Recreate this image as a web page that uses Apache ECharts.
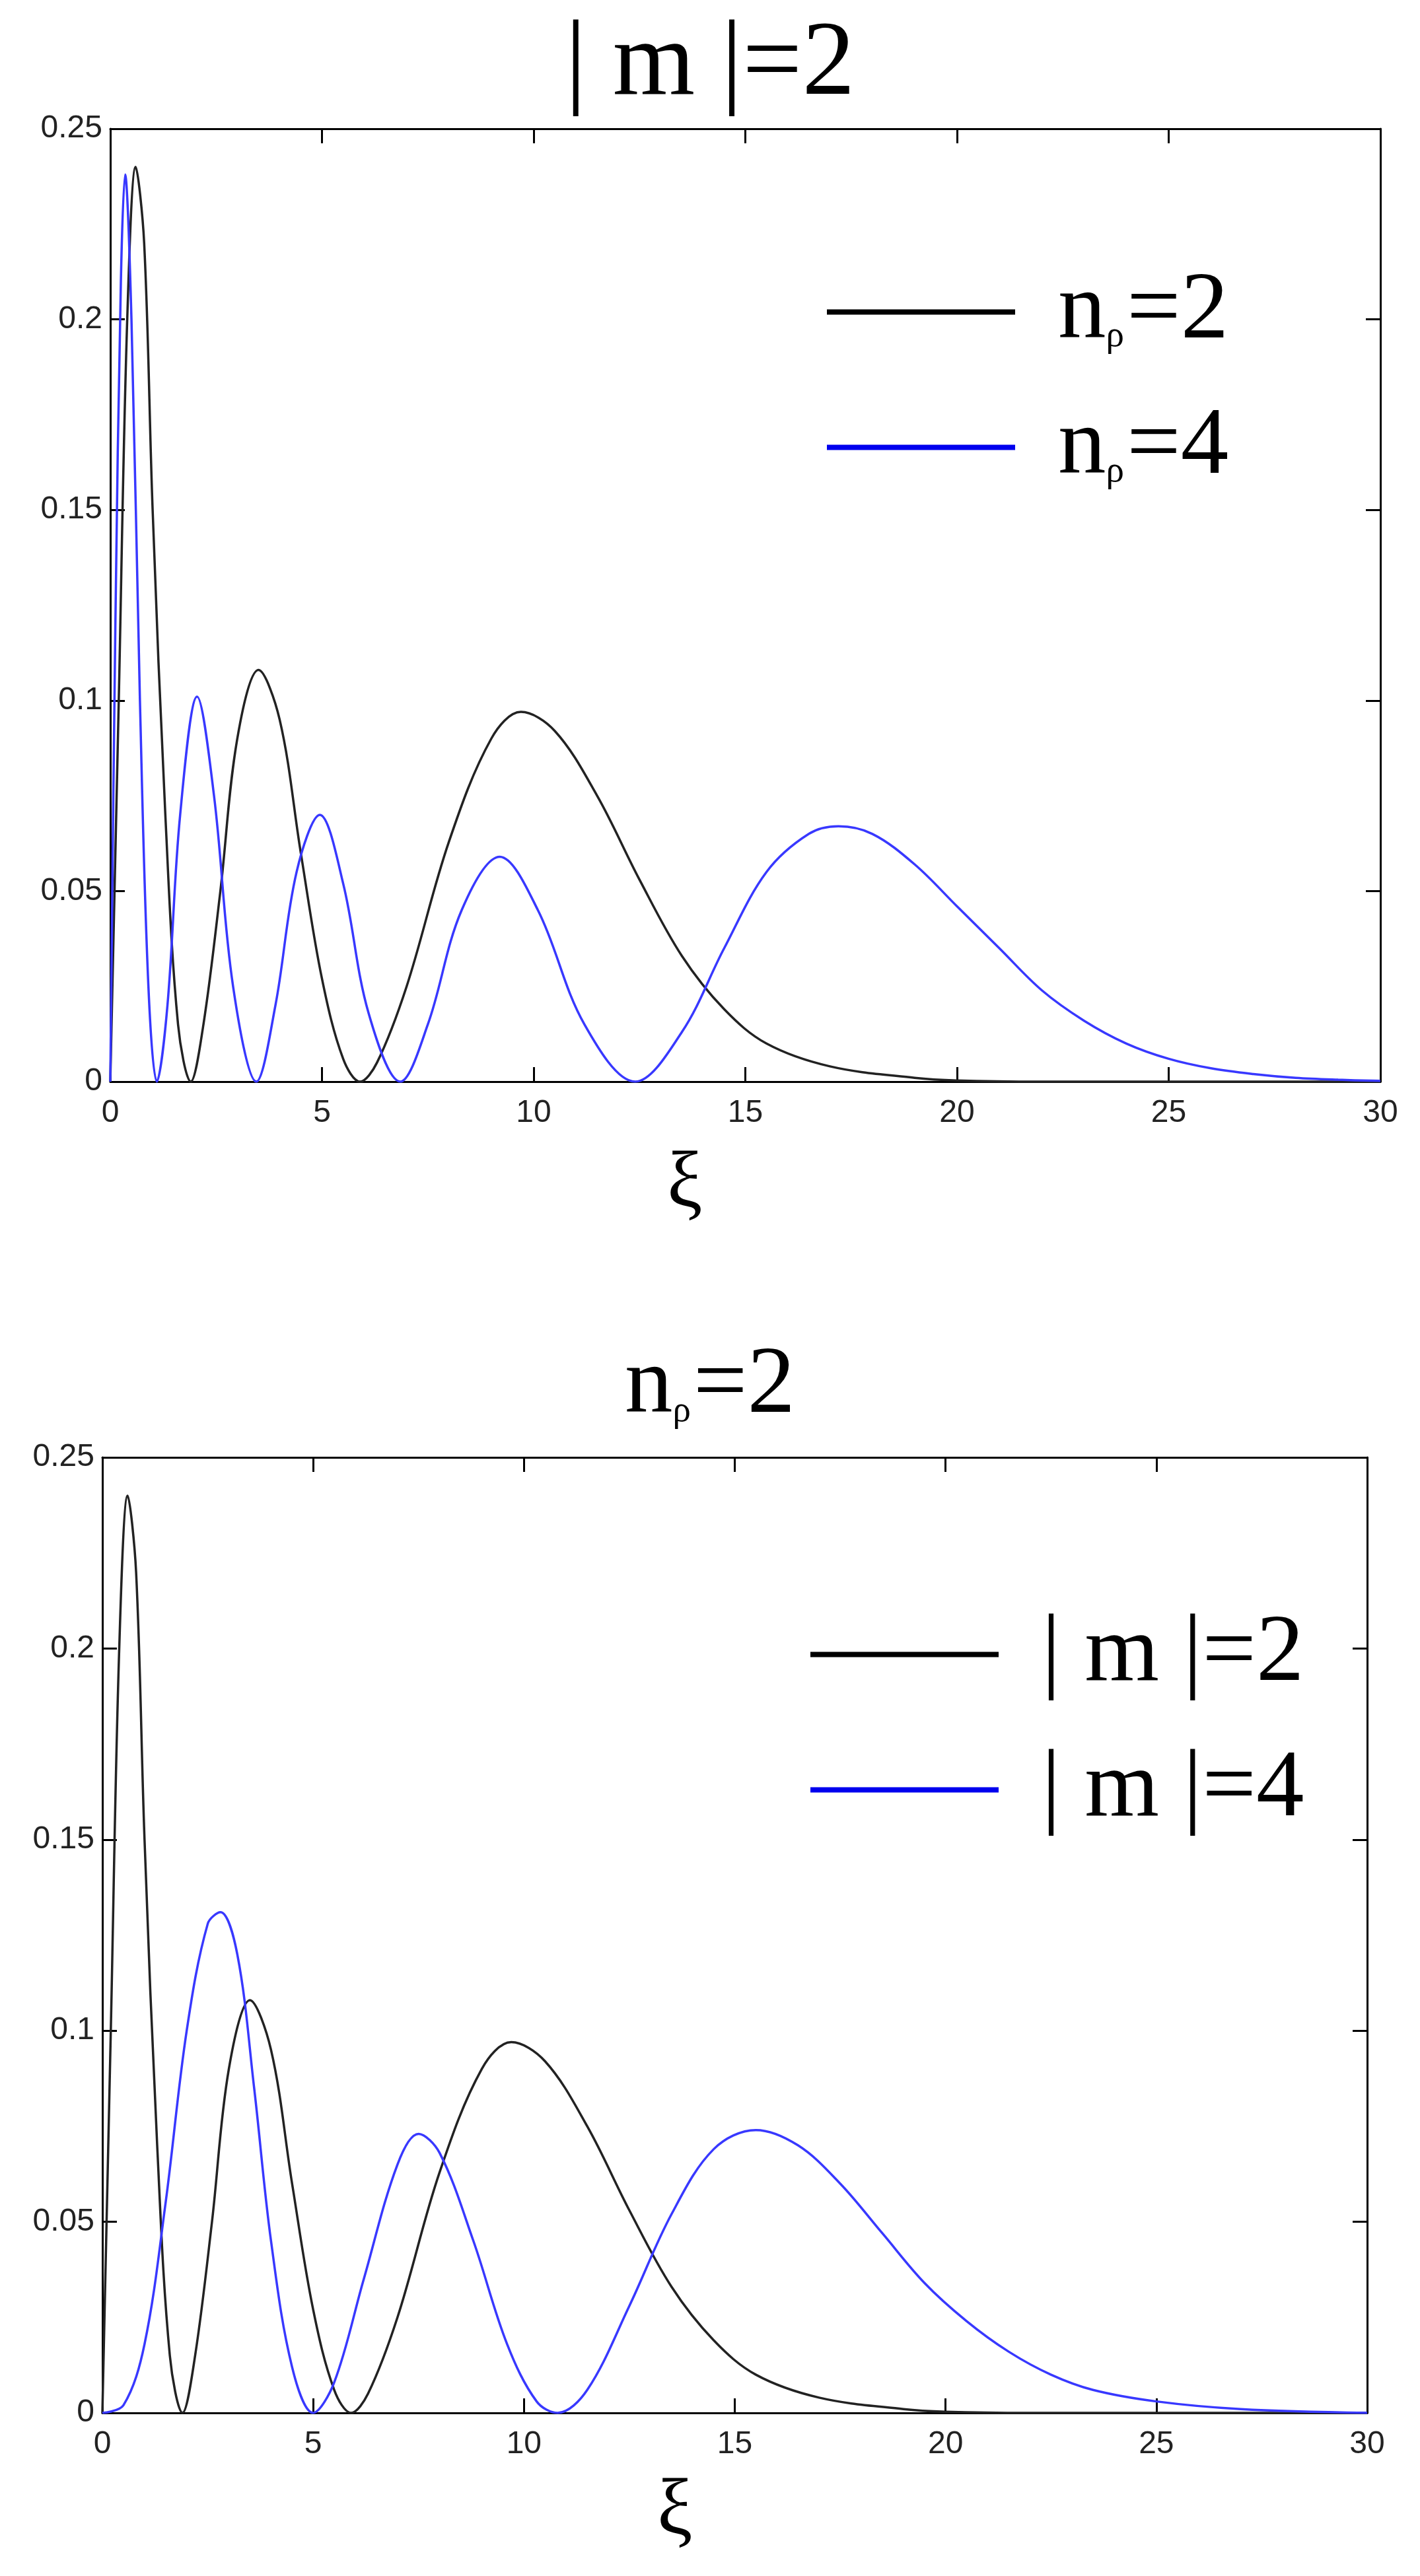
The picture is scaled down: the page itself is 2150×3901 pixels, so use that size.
<!DOCTYPE html>
<html>
<head>
<meta charset="utf-8">
<title></title>
<script src="https://cdn.jsdelivr.net/npm/echarts@6/dist/echarts.min.js"></script>
<style>html,body{margin:0;background:#fff}</style>
</head>
<body>
<div id="EChart" style="width:2150px;height:3901px;"></div>
<script>
// values, [xi, value]
var blackN2M2 = [[0,0],[0.2,0.1],[0.4,0.2],[0.6,0.24],[0.8,0.22],[1.0,0.15],[1.3,0.07],[1.6,0.015],[1.9,0],[2.2,0.015],[2.6,0.05],[3.0,0.09],[3.5,0.108],[4.0,0.095],[4.5,0.06],[5.0,0.027],[5.5,0.006],[5.9,0],[6.3,0.005],[7,0.025],[8,0.063],[9,0.09],[9.7,0.097],[10.5,0.092],[11.5,0.075],[12.5,0.053],[13.5,0.033],[14.5,0.019],[15.5,0.01],[17,0.004],[19,0.001],[20,0.0003],[22,0],[30,0]];
var blueN4M2 = [[0,0],[0.12,0.12],[0.25,0.21],[0.35,0.238],[0.5,0.2],[0.7,0.1],[0.9,0.025],[1.1,0],[1.35,0.02],[1.65,0.07],[2.05,0.101],[2.45,0.075],[2.9,0.025],[3.45,0],[3.9,0.02],[4.4,0.055],[4.95,0.07],[5.5,0.052],[6.1,0.018],[6.85,0],[7.5,0.015],[8.3,0.045],[9.2,0.059],[10.1,0.045],[11.2,0.015],[12.4,0],[13.5,0.013],[14.5,0.035],[15.5,0.055],[16.5,0.065],[17.2,0.067],[18,0.065],[19,0.057],[20,0.046],[21,0.035],[22,0.024],[23,0.016],[24,0.01],[25,0.006],[26,0.0035],[27,0.002],[28,0.001],[29,0.0005],[30,0.0002]];
var blueN2M4 = [[0,0],[0.5,0.002],[1,0.018],[1.5,0.055],[2,0.1],[2.5,0.128],[2.8,0.131],[3.2,0.12],[3.6,0.085],[4.0,0.045],[4.5,0.012],[5.0,0],[5.5,0.008],[6.2,0.035],[7.0,0.065],[7.5,0.073],[8.0,0.068],[8.8,0.045],[9.6,0.018],[10.3,0.003],[10.8,0],[11.5,0.006],[12.5,0.028],[13.5,0.052],[14.5,0.069],[15.5,0.074],[16.5,0.07],[17.5,0.06],[18.5,0.047],[19.5,0.034],[20.5,0.024],[21.5,0.016],[22.5,0.01],[23.5,0.006],[25,0.003],[27,0.001],[30,0]];
var xTicks = [0, 30, 5];
var yTicks = [0, 0.25, 0.05];

var serif = 'Liberation Serif';
var sans = 'Liberation Sans';
var rich = {
    n: { fontFamily: serif, fontSize: 145, fontWeight: 'normal', color: '#000', lineHeight: 150 },
    s: { fontFamily: serif, fontSize: 55, fontWeight: 'normal', color: '#000', verticalAlign: 'bottom', padding: [0, 4, 10, 0] }
};

function xAxis(i, show) {
    return {
        type: 'value', gridIndex: i, min: xTicks[0], max: xTicks[1], interval: xTicks[2],
        position: show ? 'bottom' : 'top',
        axisLine: { show: true, onZero: false, lineStyle: { color: '#000', width: 3 } },
        axisTick: { inside: true, length: 22, lineStyle: { color: '#000', width: 3 } },
        axisLabel: { show: show, fontFamily: sans, fontSize: 48, color: '#222', margin: 24 },
        splitLine: { show: false }
    };
}
function yAxis(i, show) {
    return {
        type: 'value', gridIndex: i, min: yTicks[0], max: yTicks[1], interval: yTicks[2],
        position: show ? 'left' : 'right',
        axisLine: { show: true, onZero: false, lineStyle: { color: '#000', width: 3 } },
        axisTick: { inside: true, length: 22, lineStyle: { color: '#000', width: 3 } },
        axisLabel: { show: show, fontFamily: sans, fontSize: 48, color: '#222', margin: 12 },
        splitLine: { show: false }
    };
}
function line(name, data, color, xi, yi) {
    return {
        name: name, type: 'line', data: data, xAxisIndex: xi, yAxisIndex: yi,
        showSymbol: false, symbol: 'none', smooth: 0.35, color: color,
        lineStyle: { color: color, width: 3.5 }
    };
}
function legend(names, left, top) {
    return {
        orient: 'vertical', left: left, top: top, itemGap: 60,
        icon: 'rect', itemWidth: 285, itemHeight: 8,
        data: names,
        textStyle: { rich: rich, padding: [0, 0, 0, 60] },
        formatter: function (n) { return n; }
    };
}

var option = {
    animation: false,
    title: [
        { text: '{n|| m |=2}', left: 'center', top: 15, textStyle: { rich: { n: { fontFamily: serif, fontSize: 160, fontWeight: 'normal', color: '#000' } } } },
        { text: '{n|n}{s|ρ}{n|=2}', left: 'center', top: 2020, textStyle: { fontWeight: 'normal', rich: rich } }
    ],
    grid: [
        { left: 167, width: 1923, top: 195, height: 1443 },
        { left: 155, width: 1915, top: 2207, height: 1447 }
    ],
    xAxis: [xAxis(0, true), xAxis(0, false), xAxis(1, true), xAxis(1, false)],
    yAxis: [yAxis(0, true), yAxis(0, false), yAxis(1, true), yAxis(1, false)],
    legend: [
        legend([{ name: '{n|n}{s|ρ}{n|=2}', itemStyle: { color: '#000' } }, { name: '{n|n}{s|ρ}{n|=4}', itemStyle: { color: '#0000ee' } }], 1247, 395),
        legend([{ name: '{n|| m |=2}', itemStyle: { color: '#000' } }, { name: '{n|| m |=4}', itemStyle: { color: '#0000ee' } }], 1222, 2428)
    ],
    graphic: [
        { type: 'text', left: 1010, top: 1735, style: { text: 'ξ', font: '120px "Liberation Serif"', fill: '#000' } },
        { type: 'text', left: 995, top: 3745, style: { text: 'ξ', font: '120px "Liberation Serif"', fill: '#000' } }
    ],
    series: [
        line('{n|n}{s|ρ}{n|=2}', blackN2M2, '#222', 0, 0),
        line('{n|n}{s|ρ}{n|=4}', blueN4M2, '#3838ff', 0, 0),
        line('{n|| m |=2}', blackN2M2, '#222', 2, 2),
        line('{n|| m |=4}', blueN2M4, '#3838ff', 2, 2)
    ]
};
var myChart = echarts.init(document.getElementById('EChart'));
myChart.setOption(option);
</script>
</body>
</html>
